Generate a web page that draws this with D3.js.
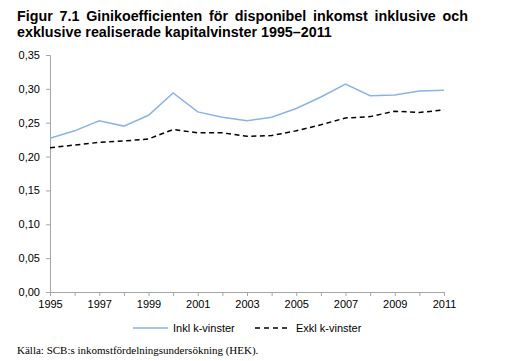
<!DOCTYPE html>
<html><head><meta charset="utf-8">
<script src="https://cdn.jsdelivr.net/npm/d3@7"></script>
<style>body{margin:0;background:#fff}svg{display:block}</style>
</head><body>
<script>
const years = [1995,1996,1997,1998,1999,2000,2001,2002,2003,2004,2005,2006,2007,2008,2009,2010,2011];
const inkl = [0.227,0.238,0.253,0.245,0.261,0.294,0.266,0.258,0.253,0.258,0.271,0.288,0.307,0.290,0.291,0.297,0.298];
const exkl = [0.213,0.217,0.221,0.223,0.226,0.240,0.235,0.235,0.230,0.231,0.238,0.247,0.257,0.259,0.267,0.265,0.269];
const yTicks = [0,0.05,0.10,0.15,0.20,0.25,0.30,0.35];
const xLabels = [1995,1997,1999,2001,2003,2005,2007,2009,2011];
const seriesNames = ["Inkl k-vinster","Exkl k-vinster"];
const titleLines = ["Figur 7.1 Ginikoefficienten för disponibel inkomst inklusive och","exklusive realiserade kapitalvinster 1995–2011"];
const source = "Källa: SCB:s inkomstfördelningsundersökning (HEK).";

const W=508,H=361;
const svg=d3.select("body").append("svg").attr("width",W).attr("height",H);
const x=d3.scaleLinear().domain([1995,2011]).range([50,444]);
const y=d3.scaleLinear().domain([0,0.35]).range([292,55]);
const fmt=d=>d3.format(".2f")(d).replace(".",",");

// title (line 1 justified via word spacing)
const t1=svg.append("text").attr("x",17).attr("y",21).attr("font-family","Liberation Sans, Arial, sans-serif")
  .attr("font-weight","bold").attr("font-size",14.3).text(titleLines[0]);
const natural=t1.node().getComputedTextLength();
const nSpaces=titleLines[0].split(" ").length-1;
t1.attr("word-spacing",Math.max(0,(451-natural)/nSpaces));
svg.append("text").attr("x",17).attr("y",37).attr("font-family","Liberation Sans, Arial, sans-serif")
  .attr("font-weight","bold").attr("font-size",14.3).text(titleLines[1]);

const axisColor="#a6a6a6";
// y axis
const ya=svg.append("g").attr("transform","translate(50,0)").call(d3.axisLeft(y).tickValues(yTicks).tickFormat(fmt).tickSize(4).tickPadding(6));
ya.select(".domain").attr("stroke",axisColor);
ya.selectAll(".tick line").attr("stroke",axisColor);
ya.selectAll("text").attr("font-family","Liberation Sans, Arial, sans-serif").attr("font-size",11).attr("fill","#000");
// x axis
const xa=svg.append("g").attr("transform","translate(0,292)").call(d3.axisBottom(x).tickValues(years).tickFormat(d=>xLabels.includes(d)?d:"").tickSize(4).tickPadding(4).tickSizeOuter(0));
xa.select(".domain").attr("stroke",axisColor);
xa.selectAll(".tick line").attr("stroke",axisColor);
xa.selectAll("text").attr("font-family","Liberation Sans, Arial, sans-serif").attr("font-size",11).attr("fill","#000");

const line=d3.line().x((d,i)=>x(years[i])).y(d=>y(d));
svg.append("path").datum(inkl).attr("d",line).attr("fill","none").attr("stroke","#8db3e2").attr("stroke-width",1.5);
svg.append("path").datum(exkl).attr("d",line).attr("fill","none").attr("stroke","#000").attr("stroke-width",1.5).attr("stroke-dasharray","5,3.5");

// legend
const lg=svg.append("g").attr("font-family","Liberation Sans, Arial, sans-serif").attr("font-size",11);
lg.append("line").attr("x1",133).attr("x2",168).attr("y1",328).attr("y2",328).attr("stroke","#8db3e2").attr("stroke-width",1.5);
lg.append("text").attr("x",173).attr("y",332).text(seriesNames[0]);
lg.append("line").attr("x1",255).attr("x2",289).attr("y1",328).attr("y2",328).attr("stroke","#000").attr("stroke-width",1.5).attr("stroke-dasharray","5,4");
lg.append("text").attr("x",296).attr("y",332).text(seriesNames[1]);

svg.append("text").attr("x",17).attr("y",354).attr("font-family","Liberation Serif, Times New Roman, serif").attr("font-size",11).text(source);
</script>
</body></html>
